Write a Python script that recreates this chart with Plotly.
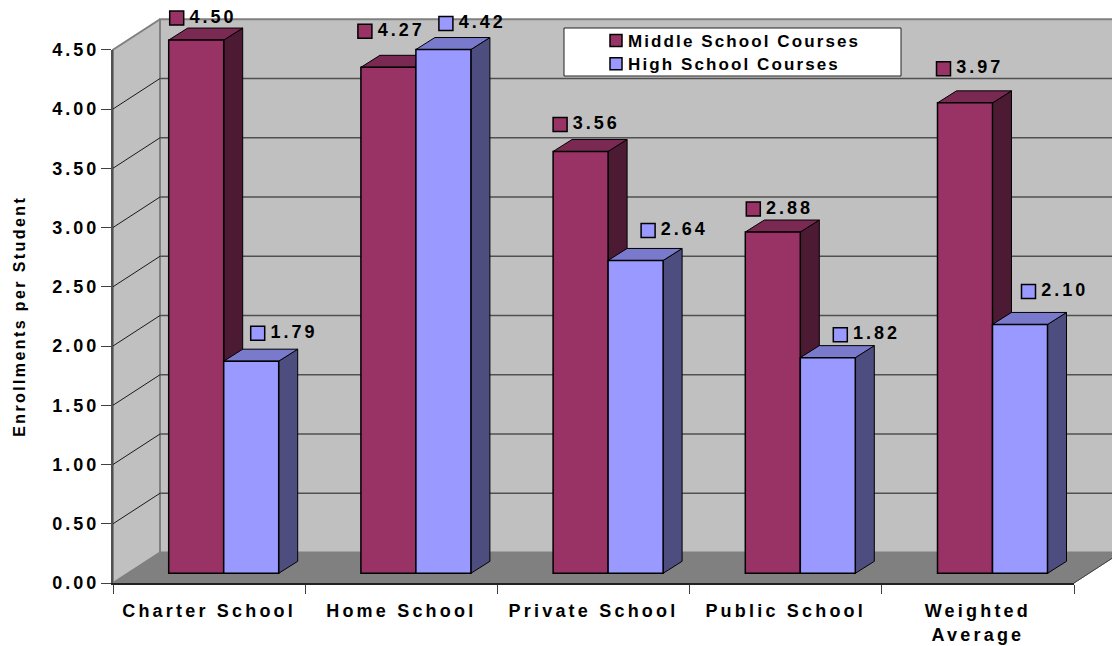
import plotly.graph_objects as go

# ---- data ----
categories = ["Charter School", "Home School", "Private School", "Public School", "Weighted<br>Average"]
middle_school = [4.50, 4.27, 3.56, 2.88, 3.97]
high_school = [1.79, 4.42, 2.64, 1.82, 2.10]
y_ticks = [0, 0.5, 1, 1.5, 2, 2.5, 3, 3.5, 4, 4.5]

# ---- label placement (px above bar top, px from bar left edge) ----
middle_label_up = [22, 36, 27, 23, 34]
high_label_up = [28, 26, 30, 23, 33]
middle_label_dx = [8, 4, 7, 8, 6]
high_label_dx = [34, 30, 40, 40, 36]

# ---- scales: 1 x-unit = one category, 1 y-unit = one enrollment ----
W, H = 1112, 646
X0, Y0, PX_X, PX_Y = 113.0, 583.0, 192.2, 118.5
x_rng = [-X0 / PX_X, (W - X0) / PX_X]
y_rng = [(Y0 - H) / PX_Y, Y0 / PX_Y]
ux, uy = (lambda p: p / PX_X), (lambda p: p / PX_Y)

DEPTH_X, DEPTH_Y = ux(47), uy(30.5)      # floor depth
SHIFT_X, SHIFT_Y = ux(14.6), uy(9.7)     # bar front plane behind the axis plane
BAR_DX, BAR_DY = ux(19), uy(12)          # bar depth
BAR_W = ux(55)
N = len(categories)
TOP = y_ticks[-1]

COL = {"mid": ("#993366", "#7A2952", "#4D1A33"), "high": ("#9999FF", "#7A7ACC", "#4D4D80")}

fig = go.Figure()


def poly(xs, ys, fill, line="black", lw=1.0):
    fig.add_trace(go.Scatter(x=xs + xs[:1], y=ys + ys[:1], mode="lines", fill="toself", fillcolor=fill,
                             line=dict(color=line, width=lw), hoverinfo="skip", showlegend=False,
                             xaxis="x", yaxis="y"))


def seg(xs, ys, color, lw):
    fig.add_trace(go.Scatter(x=xs, y=ys, mode="lines", line=dict(color=color, width=lw),
                             hoverinfo="skip", showlegend=False, xaxis="x", yaxis="y"))


# walls and floor
poly([DEPTH_X, N + DEPTH_X, N + DEPTH_X, DEPTH_X], [DEPTH_Y, DEPTH_Y, TOP + DEPTH_Y, TOP + DEPTH_Y], "#C0C0C0", "#808080", 2)
poly([0, DEPTH_X, DEPTH_X, 0], [0, DEPTH_Y, TOP + DEPTH_Y, TOP], "#C0C0C0", "#808080", 2)
poly([0, N, N + DEPTH_X, DEPTH_X], [0, 0, DEPTH_Y, DEPTH_Y], "#808080", "#808080", 1)
seg([N, N + DEPTH_X], [0, DEPTH_Y], "#404040", 1)
# gridlines on the walls
for v in y_ticks[1:-1]:
    seg([0, DEPTH_X], [v, v + DEPTH_Y], "#1a1a1a", 1)
    seg([DEPTH_X, N + DEPTH_X], [v + DEPTH_Y, v + DEPTH_Y], "#505050", 1.6)

centers = [i + 0.5 + SHIFT_X for i in range(N)]

# bar sides and tops, drawn from the values
for i in range(N):
    for vals, key, off in ((middle_school, "mid", -BAR_W), (high_school, "high", 0.0)):
        v = vals[i] + SHIFT_Y
        l = centers[i] + off
        r = l + BAR_W
        _, top, side = COL[key]
        poly([r, r + BAR_DX, r + BAR_DX, r], [SHIFT_Y, SHIFT_Y + BAR_DY, v + BAR_DY, v], side)
        poly([l, r, r + BAR_DX, l + BAR_DX], [v, v, v + BAR_DY, v + BAR_DY], top)

# bar fronts (overlay subplot, so they sit above the sides)
fig.add_trace(go.Bar(x=[c - BAR_W / 2 for c in centers], y=middle_school, base=SHIFT_Y, width=BAR_W,
                     name="Middle School Courses", marker=dict(color=COL["mid"][0], line=dict(color="black", width=1.5)),
                     xaxis="x2", yaxis="y2"))
fig.add_trace(go.Bar(x=[c + BAR_W / 2 for c in centers], y=high_school, base=SHIFT_Y, width=BAR_W,
                     name="High School Courses", marker=dict(color=COL["high"][0], line=dict(color="black", width=1.5)),
                     xaxis="x2", yaxis="y2"))

# data labels with legend keys
for vals, ups, dxs, key, off in ((middle_school, middle_label_up, middle_label_dx, "mid", -BAR_W),
                                 (high_school, high_label_up, high_label_dx, "high", 0.0)):
    fig.add_trace(go.Scatter(
        x=[c + off + ux(d) for c, d in zip(centers, dxs)],
        y=[v + SHIFT_Y + uy(u) for v, u in zip(vals, ups)],
        mode="markers+text", text=[f"{v:.2f}" for v in vals], textposition="middle right",
        textfont=dict(family="Liberation Sans", size=18, color="#000", weight=700),
        marker=dict(symbol="square", size=14, color=COL[key][0], line=dict(color="black", width=1.5)),
        hoverinfo="skip", showlegend=False, cliponaxis=False, xaxis="x2", yaxis="y2"))

# real axes, on their own subplot
fig.add_trace(go.Scatter(x=categories, y=middle_school, mode="markers", marker=dict(opacity=0),
                         hoverinfo="skip", showlegend=False, xaxis="x3", yaxis="y3"))

font = dict(family="Liberation Sans", size=18, color="#000", weight=700)
hidden = dict(visible=False, fixedrange=True, automargin=False)
fig.update_layout(
    width=W, height=H, margin=dict(l=0, r=0, t=0, b=0, autoexpand=False), paper_bgcolor="white",
    plot_bgcolor="rgba(0,0,0,0)", barmode="overlay", hovermode=False,
    xaxis=dict(range=x_rng, domain=[0, 1], **hidden),
    yaxis=dict(range=y_rng, domain=[0, 1], **hidden),
    xaxis2=dict(range=x_rng, overlaying="x", **hidden),
    yaxis2=dict(range=y_rng, overlaying="y", **hidden),
    xaxis3=dict(type="category", categoryorder="array", categoryarray=categories, range=[-0.5, N - 0.5],
                domain=[X0 / W, (X0 + N * PX_X) / W], anchor="y3", tickson="boundaries", ticks="outside",
                ticklen=9, tickcolor="#404040", tickwidth=1.2, showline=True, linecolor="#222", linewidth=1.5,
                showgrid=False, tickfont=font, tickangle=0, fixedrange=True, automargin=False,
                ticklabelstandoff=11),
    yaxis3=dict(range=[0, TOP], domain=[(H - Y0) / H, (H - Y0 + TOP * PX_Y) / H], anchor="x3",
                tickvals=y_ticks, ticktext=[f"{v:.2f}" for v in y_ticks], ticks="outside", ticklen=10,
                tickcolor="#404040", tickwidth=1.2, showline=True, linecolor="#505050", linewidth=2,
                showgrid=False, zeroline=False, tickfont=font, fixedrange=True, automargin=False,
                ticklabelstandoff=-2,
                title=dict(text="Enrollments per Student",
                           font=dict(family="Liberation Sans", size=16, color="#000", weight=700))),
    legend=dict(x=596 / W, y=1 - 23 / H, xanchor="left", yanchor="top", bgcolor="rgba(0,0,0,0)",
                font=dict(family="Liberation Sans", size=17, color="#000", weight=700),
                entrywidth=270, entrywidthmode="pixels",
                traceorder="normal", tracegroupgap=0, itemclick=False, itemdoubleclick=False),
    shapes=[dict(type="rect", xref="paper", yref="paper", x0=564 / W, x1=901 / W, y0=1 - 76 / H, y1=1 - 28 / H,
                 fillcolor="white", line=dict(color="#222", width=1), layer="above")],
)

post = """
document.body.style.margin='0';
function sp(sel,s){document.querySelectorAll(sel).forEach(function(t){t.style.letterSpacing=s;});}
sp('.x3tick text','3.2px');
sp('.y3tick text','3px');
sp('.textpoint text','3px');
sp('.legendtext','2.1px');
sp('.y3title','2.4px');
document.querySelectorAll('.legendtext').forEach(function(t){t.setAttribute('x', parseFloat(t.getAttribute('x'))-8);});
document.querySelectorAll('.textpoint text').forEach(function(t){t.setAttribute('x', parseFloat(t.getAttribute('x'))+3);});
document.querySelectorAll('.legend .scrollbox').forEach(function(t){t.removeAttribute('clip-path');});
document.querySelectorAll('.legend .traces').forEach(function(t,i){
  var m=/translate\\(([-\\d.]+),\\s*([-\\d.]+)\\)/.exec(t.getAttribute('transform')||'');
  if(m){t.setAttribute('transform','translate('+m[1]+','+(parseFloat(m[2])-2*i)+')');}
});
var tt=document.querySelector('.y3title');
if(tt){tt.setAttribute('transform','translate(-20,0) '+(tt.getAttribute('transform')||''));}
"""
fig.write_html("out.html", post_script=post, config=dict(displayModeBar=False))
